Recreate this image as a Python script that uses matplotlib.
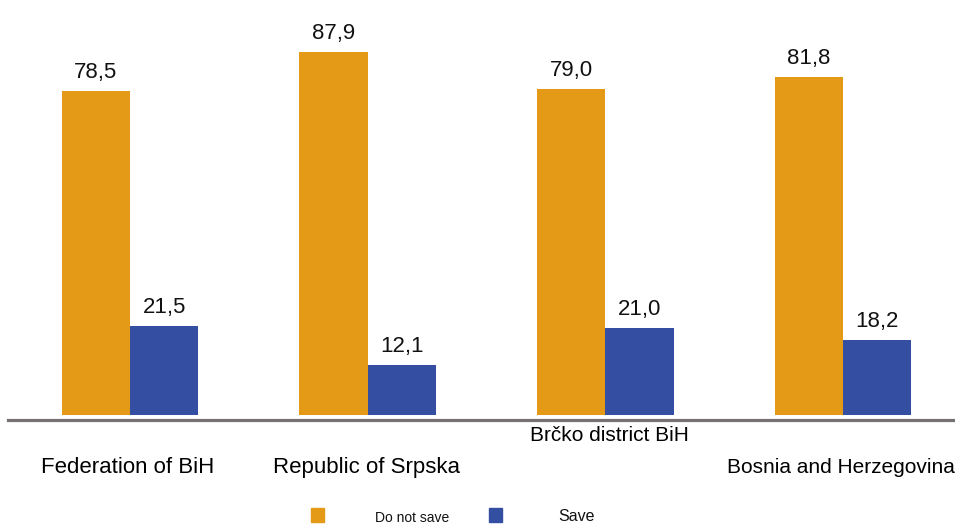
import matplotlib
matplotlib.use("Agg")
import matplotlib.pyplot as plt
import matplotlib.transforms as mtransforms
from matplotlib.patches import Rectangle

regions = ["Federation of BiH", "Republic of Srpska", "Brčko district BiH", "Bosnia and Herzegovina"]
do_not_save = [78.5, 87.9, 79.0, 81.8]
save = [21.5, 12.1, 21.0, 18.2]
series_names = ["Do not save", "Save"]

ORANGE = "#E59A17"
BLUE = "#344EA1"
AXIS_GRAY = "#767171"

plt.rcParams["font.family"] = ["Liberation Sans", "DejaVu Sans"]

fig = plt.figure(figsize=(9.55, 5.26), dpi=100)
ax = fig.add_axes([0.0, 105 / 526, 1.0, 421 / 526])
ax.set_xlim(-0.547, 3.471)
ax.set_ylim(-1.45, 100.56)
ax.axis("off")

width = 0.287
x = range(len(regions))
bars1 = ax.bar([i - width / 2 for i in x], do_not_save, width, color=ORANGE, zorder=2)
bars2 = ax.bar([i + width / 2 for i in x], save, width, color=BLUE, zorder=2)

# baseline rule under the bars
ax.axhline(-1.1, xmin=8 / 955, xmax=1.0, color=AXIS_GRAY, lw=2.3, zorder=1, clip_on=False)

def fmt(v):
    return f"{v:.1f}".replace(".", ",")

for bars, vals in ((bars1, do_not_save), (bars2, save)):
    for b, v in zip(bars, vals):
        ax.annotate(fmt(v), (b.get_x() + b.get_width() / 2, v),
                    xytext=(0, 9.5), textcoords="offset points",
                    ha="center", va="baseline", fontsize=16, color="#111111")

# category labels below the axis (Brčko sits on its own, higher row)
trans = mtransforms.blended_transform_factory(ax.transData, fig.transFigure)
ax.text(-0.01, 1 - 473 / 526, regions[0], transform=trans, ha="center", va="baseline", fontsize=16)
ax.text(0.995, 1 - 473 / 526, regions[1], transform=trans, ha="center", va="baseline", fontsize=16)
ax.text(2.019, 1 - 441 / 526, regions[2], transform=trans, ha="center", va="baseline", fontsize=15)
ax.text(2.51, 1 - 473 / 526, regions[3], transform=trans, ha="left", va="baseline", fontsize=15)

# legend
fig.patches.append(Rectangle((311 / 955, 1 - 522 / 526), 13 / 955, 14 / 526,
                             transform=fig.transFigure, color=ORANGE))
fig.patches.append(Rectangle((489 / 955, 1 - 522 / 526), 13 / 955, 14 / 526,
                             transform=fig.transFigure, color=BLUE))
fig.text(375 / 955, 1 - 522 / 526, series_names[0], ha="left", va="baseline",
         fontsize=10, color="#111111")
fig.text(558 / 955, 1 - 521 / 526, series_names[1], ha="left", va="baseline",
         fontsize=11.5, color="#111111")

fig.savefig("out.png", dpi=100)
